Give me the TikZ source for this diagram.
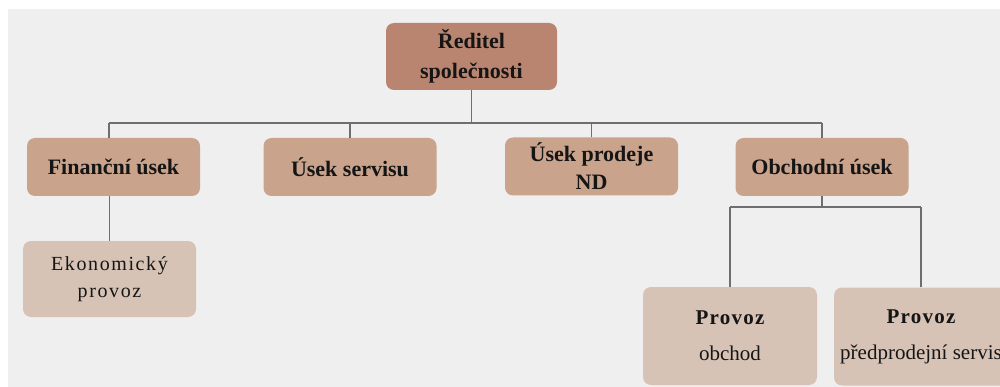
\documentclass[tikz,border=0pt]{standalone}
\usepackage{fontspec}
\setmainfont{Liberation Serif}
\definecolor{bgc}{HTML}{EFEFEF}
\definecolor{c1}{HTML}{BA8570}
\definecolor{c2}{HTML}{C9A38B}
\definecolor{c3}{HTML}{D7C3B5}
\definecolor{linec}{HTML}{6E6E6E}
\definecolor{txt}{HTML}{151515}
\begin{document}
\begin{tikzpicture}[x=1pt,y=-1pt,
  box/.style={rounded corners=8pt, inner sep=0pt, align=center, text=txt},
  lvlone/.style={box, fill=c1, minimum width=171pt, minimum height=67pt, font=\bfseries\fontsize{22}{30}\selectfont},
  lvltwo/.style={box, fill=c2, minimum width=173pt, minimum height=58pt, font=\bfseries\fontsize{22}{28}\selectfont},
  lvlthree/.style={box, fill=c3, minimum width=173pt, minimum height=76pt, font=\addfontfeature{LetterSpace=8}\fontsize{20}{27}\selectfont},
  lvlfour/.style={box, fill=c3, minimum width=174pt, minimum height=98pt, font=\fontsize{21}{36}\selectfont},
  conn/.style={draw=linec, line width=1.4pt}]
\useasboundingbox (0,0) rectangle (1000,387);
\clip (0,0) rectangle (1000,387);
\fill[bgc] (8,9) rectangle (1000,387);

\node[lvlone] (top) at (471.5,56.5) {Ředitel\\společnosti};
\node[lvltwo] (fin) at (113.5,167) {Finanční úsek};
\node[lvltwo] (serv) at (350,167) {Úsek servisu};
\node[lvltwo] (prod) at (591.5,166.5) {Úsek prodeje\\ND};
\node[lvltwo] (obch) at (822,167) {Obchodní úsek};
\node[lvlthree] (ekon) at (109.5,279) {Ekonomický\\provoz};
\node[lvlfour] (po) at (730,336) {{\bfseries\addfontfeature{LetterSpace=6}Provoz}\\obchod};
\node[lvlfour] (ps) at (921,336.5) {{\bfseries\addfontfeature{LetterSpace=6}Provoz}\\předprodejní servis};

\coordinate (bus) at (471.5,123);
\coordinate (finup) at (109,123);
\coordinate (obchup) at (822,123);
\coordinate (sub) at (822,207);

\draw[conn] (top.south) -- (bus);
\draw[conn] (finup) -- (obchup);
\draw[conn] (finup) -- (finup |- fin.north);
\draw[conn] (serv.north) -- (serv.north |- bus);
\draw[conn] (prod.north) -- (prod.north |- bus);
\draw[conn] (obch.north) -- (obch.north |- bus);
\draw[conn] (ekon.north) -- (ekon.north |- fin.south);
\draw[conn] (obch.south) -- (sub);
\draw[conn] (po.north |- sub) -- (ps.north |- sub);
\draw[conn] (po.north) -- (po.north |- sub);
\draw[conn] (ps.north) -- (ps.north |- sub);
\end{tikzpicture}
\end{document}
